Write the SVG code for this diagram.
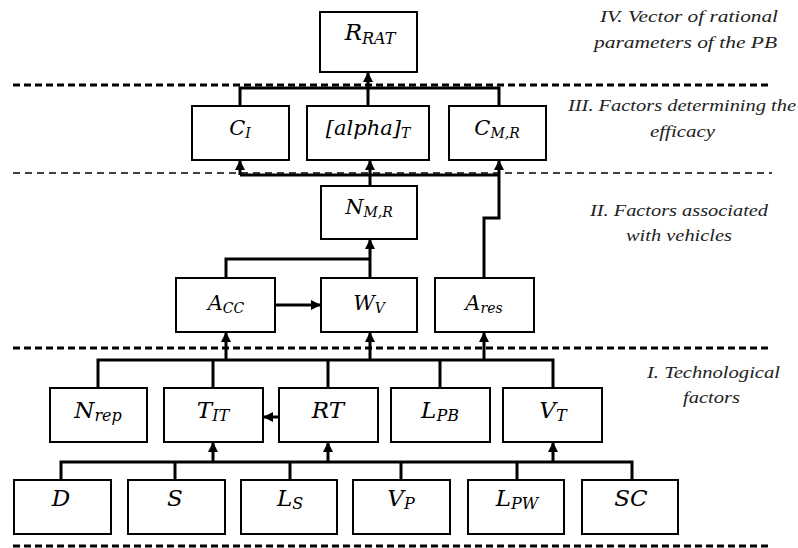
<svg xmlns="http://www.w3.org/2000/svg" width="798" height="548" viewBox="0 0 798 548">
<style>
.box{fill:#fff;stroke:#000;stroke-width:2}
.lbl{font-family:"DejaVu Serif","Liberation Serif",serif;font-style:italic;font-size:21px;fill:#000}
.big{font-size:23px}
.sub{font-size:14px}
.bsub{font-size:16px}
.cap{font-family:"Liberation Serif","DejaVu Serif",serif;font-style:italic;font-size:16px;fill:#222}
.con{fill:none;stroke:#000;stroke-width:3}
.dash{fill:none;stroke:#000;stroke-width:3;stroke-dasharray:7 4}
.dash2{fill:none;stroke:#000;stroke-width:1.5;stroke-dasharray:7 5}
</style>
<defs>
<marker id="ah" markerUnits="userSpaceOnUse" markerWidth="12" markerHeight="12" refX="10" refY="6" orient="auto">
<path d="M0,1 L10,6 L0,11 Z" fill="#000"/>
</marker>
</defs>
<g id="separators">
<line class="dash" x1="13" y1="85" x2="772" y2="85"/>
<line class="dash2" x1="13" y1="173" x2="772" y2="173"/>
<line class="dash" x1="13" y1="348" x2="772" y2="348"/>
<line class="dash" x1="13" y1="546" x2="772" y2="546"/>
</g>
<g id="captions">
<text class="cap" x="600" y="22" textLength="178" lengthAdjust="spacingAndGlyphs">IV. Vector of rational</text>
<text class="cap" x="594" y="48" textLength="183" lengthAdjust="spacingAndGlyphs">parameters of the PB</text>
<text class="cap" x="568" y="111" textLength="228" lengthAdjust="spacingAndGlyphs">III. Factors determining the</text>
<text class="cap" x="650" y="137" textLength="65" lengthAdjust="spacingAndGlyphs">efficacy</text>
<text class="cap" x="590" y="216" textLength="178" lengthAdjust="spacingAndGlyphs">II. Factors associated</text>
<text class="cap" x="626" y="241" textLength="106" lengthAdjust="spacingAndGlyphs">with vehicles</text>
<text class="cap" x="647" y="378" textLength="133" lengthAdjust="spacingAndGlyphs">I. Technological</text>
<text class="cap" x="683" y="403" textLength="57" lengthAdjust="spacingAndGlyphs">factors</text>
</g>
<g id="connectors">
<polyline class="con" points="240,106 240,88 499,88 499,106"/>
<line class="con" x1="368" y1="106" x2="368" y2="72" marker-end="url(#ah)"/>
<polyline class="con" points="240,175 499,175"/>
<line class="con" x1="240" y1="175" x2="240" y2="160" marker-end="url(#ah)"/>
<line class="con" x1="370" y1="186" x2="370" y2="160" marker-end="url(#ah)"/>
<polyline class="con" points="484,278 484,218 499,218 499,160" marker-end="url(#ah)"/>
<polyline class="con" points="226,278 226,259 370,259"/>
<line class="con" x1="370" y1="278" x2="370" y2="239" marker-end="url(#ah)"/>
<line class="con" x1="275" y1="305" x2="321" y2="305" marker-end="url(#ah)"/>
<polyline class="con" points="98,388 98,360 553,360 553,388"/>
<line class="con" x1="213" y1="360" x2="213" y2="388"/>
<line class="con" x1="328" y1="360" x2="328" y2="388"/>
<line class="con" x1="440" y1="360" x2="440" y2="388"/>
<line class="con" x1="226" y1="360" x2="226" y2="332" marker-end="url(#ah)"/>
<line class="con" x1="370" y1="360" x2="370" y2="332" marker-end="url(#ah)"/>
<line class="con" x1="484" y1="360" x2="484" y2="332" marker-end="url(#ah)"/>
<line class="con" x1="279" y1="417" x2="263" y2="417" marker-end="url(#ah)"/>
<polyline class="con" points="61,480 61,462 632,462 632,480"/>
<line class="con" x1="175" y1="480" x2="175" y2="462"/>
<line class="con" x1="290" y1="480" x2="290" y2="462"/>
<line class="con" x1="401" y1="480" x2="401" y2="462"/>
<line class="con" x1="517" y1="480" x2="517" y2="462"/>
<line class="con" x1="213" y1="462" x2="213" y2="442" marker-end="url(#ah)"/>
<line class="con" x1="328" y1="462" x2="328" y2="442" marker-end="url(#ah)"/>
<line class="con" x1="553" y1="462" x2="553" y2="442" marker-end="url(#ah)"/>
</g>
<g id="n_rrat"><rect class="box" x="320" y="12" width="97" height="60"/><text class="lbl big" x="370" y="40" text-anchor="middle">R<tspan class="bsub" dy="4">RAT</tspan></text></g>
<g id="n_ci"><rect class="box" x="192" y="106" width="97" height="54"/><text class="lbl" x="240" y="135" text-anchor="middle">C<tspan class="sub" dy="3">I</tspan></text></g>
<g id="n_alpha"><rect class="box" x="307" y="106" width="122" height="54"/><text class="lbl" x="368" y="135" text-anchor="middle">[alpha]<tspan class="sub" dy="3">T</tspan></text></g>
<g id="n_cmr"><rect class="box" x="449" y="106" width="97" height="54"/><text class="lbl" x="497" y="135" text-anchor="middle">C<tspan class="sub" dy="3">M,R</tspan></text></g>
<g id="n_nmr"><rect class="box" x="321" y="186" width="96" height="53"/><text class="lbl" x="369" y="214" text-anchor="middle">N<tspan class="sub" dy="3">M,R</tspan></text></g>
<g id="n_acc"><rect class="box" x="176" y="278" width="99" height="54"/><text class="lbl" x="226" y="310" text-anchor="middle">A<tspan class="sub" dy="3">CC</tspan></text></g>
<g id="n_wv"><rect class="box" x="321" y="278" width="96" height="54"/><text class="lbl" x="369" y="310" text-anchor="middle">W<tspan class="sub" dy="3">V</tspan></text></g>
<g id="n_ares"><rect class="box" x="435" y="278" width="99" height="54"/><text class="lbl" x="484" y="310" text-anchor="middle">A<tspan class="sub" dy="3">res</tspan></text></g>
<g id="n_nrep"><rect class="box" x="50" y="388" width="97" height="54"/><text class="lbl big" x="98" y="418" text-anchor="middle">N<tspan class="bsub" dy="3">rep</tspan></text></g>
<g id="n_tit"><rect class="box" x="164" y="388" width="99" height="54"/><text class="lbl big" x="213" y="418" text-anchor="middle">T<tspan class="bsub" dy="3">IT</tspan></text></g>
<g id="n_rt"><rect class="box" x="279" y="388" width="99" height="54"/><text class="lbl big" x="328" y="418" text-anchor="middle">RT</text></g>
<g id="n_lpb"><rect class="box" x="391" y="388" width="99" height="54"/><text class="lbl big" x="440" y="418" text-anchor="middle">L<tspan class="bsub" dy="3">PB</tspan></text></g>
<g id="n_vt"><rect class="box" x="503" y="388" width="99" height="54"/><text class="lbl big" x="553" y="418" text-anchor="middle">V<tspan class="bsub" dy="3">T</tspan></text></g>
<g id="n_d"><rect class="box" x="14" y="480" width="97" height="54"/><text class="lbl big" x="61" y="506" text-anchor="middle">D</text></g>
<g id="n_s"><rect class="box" x="128" y="480" width="97" height="54"/><text class="lbl big" x="175" y="506" text-anchor="middle">S</text></g>
<g id="n_ls"><rect class="box" x="241" y="480" width="96" height="54"/><text class="lbl big" x="290" y="506" text-anchor="middle">L<tspan class="bsub" dy="3">S</tspan></text></g>
<g id="n_vp"><rect class="box" x="353" y="480" width="97" height="54"/><text class="lbl big" x="401" y="506" text-anchor="middle">V<tspan class="bsub" dy="3">P</tspan></text></g>
<g id="n_lpw"><rect class="box" x="468" y="480" width="96" height="54"/><text class="lbl big" x="517" y="506" text-anchor="middle">L<tspan class="bsub" dy="3">PW</tspan></text></g>
<g id="n_sc"><rect class="box" x="582" y="480" width="96" height="54"/><text class="lbl big" x="631" y="506" text-anchor="middle">SC</text></g>
</svg>
